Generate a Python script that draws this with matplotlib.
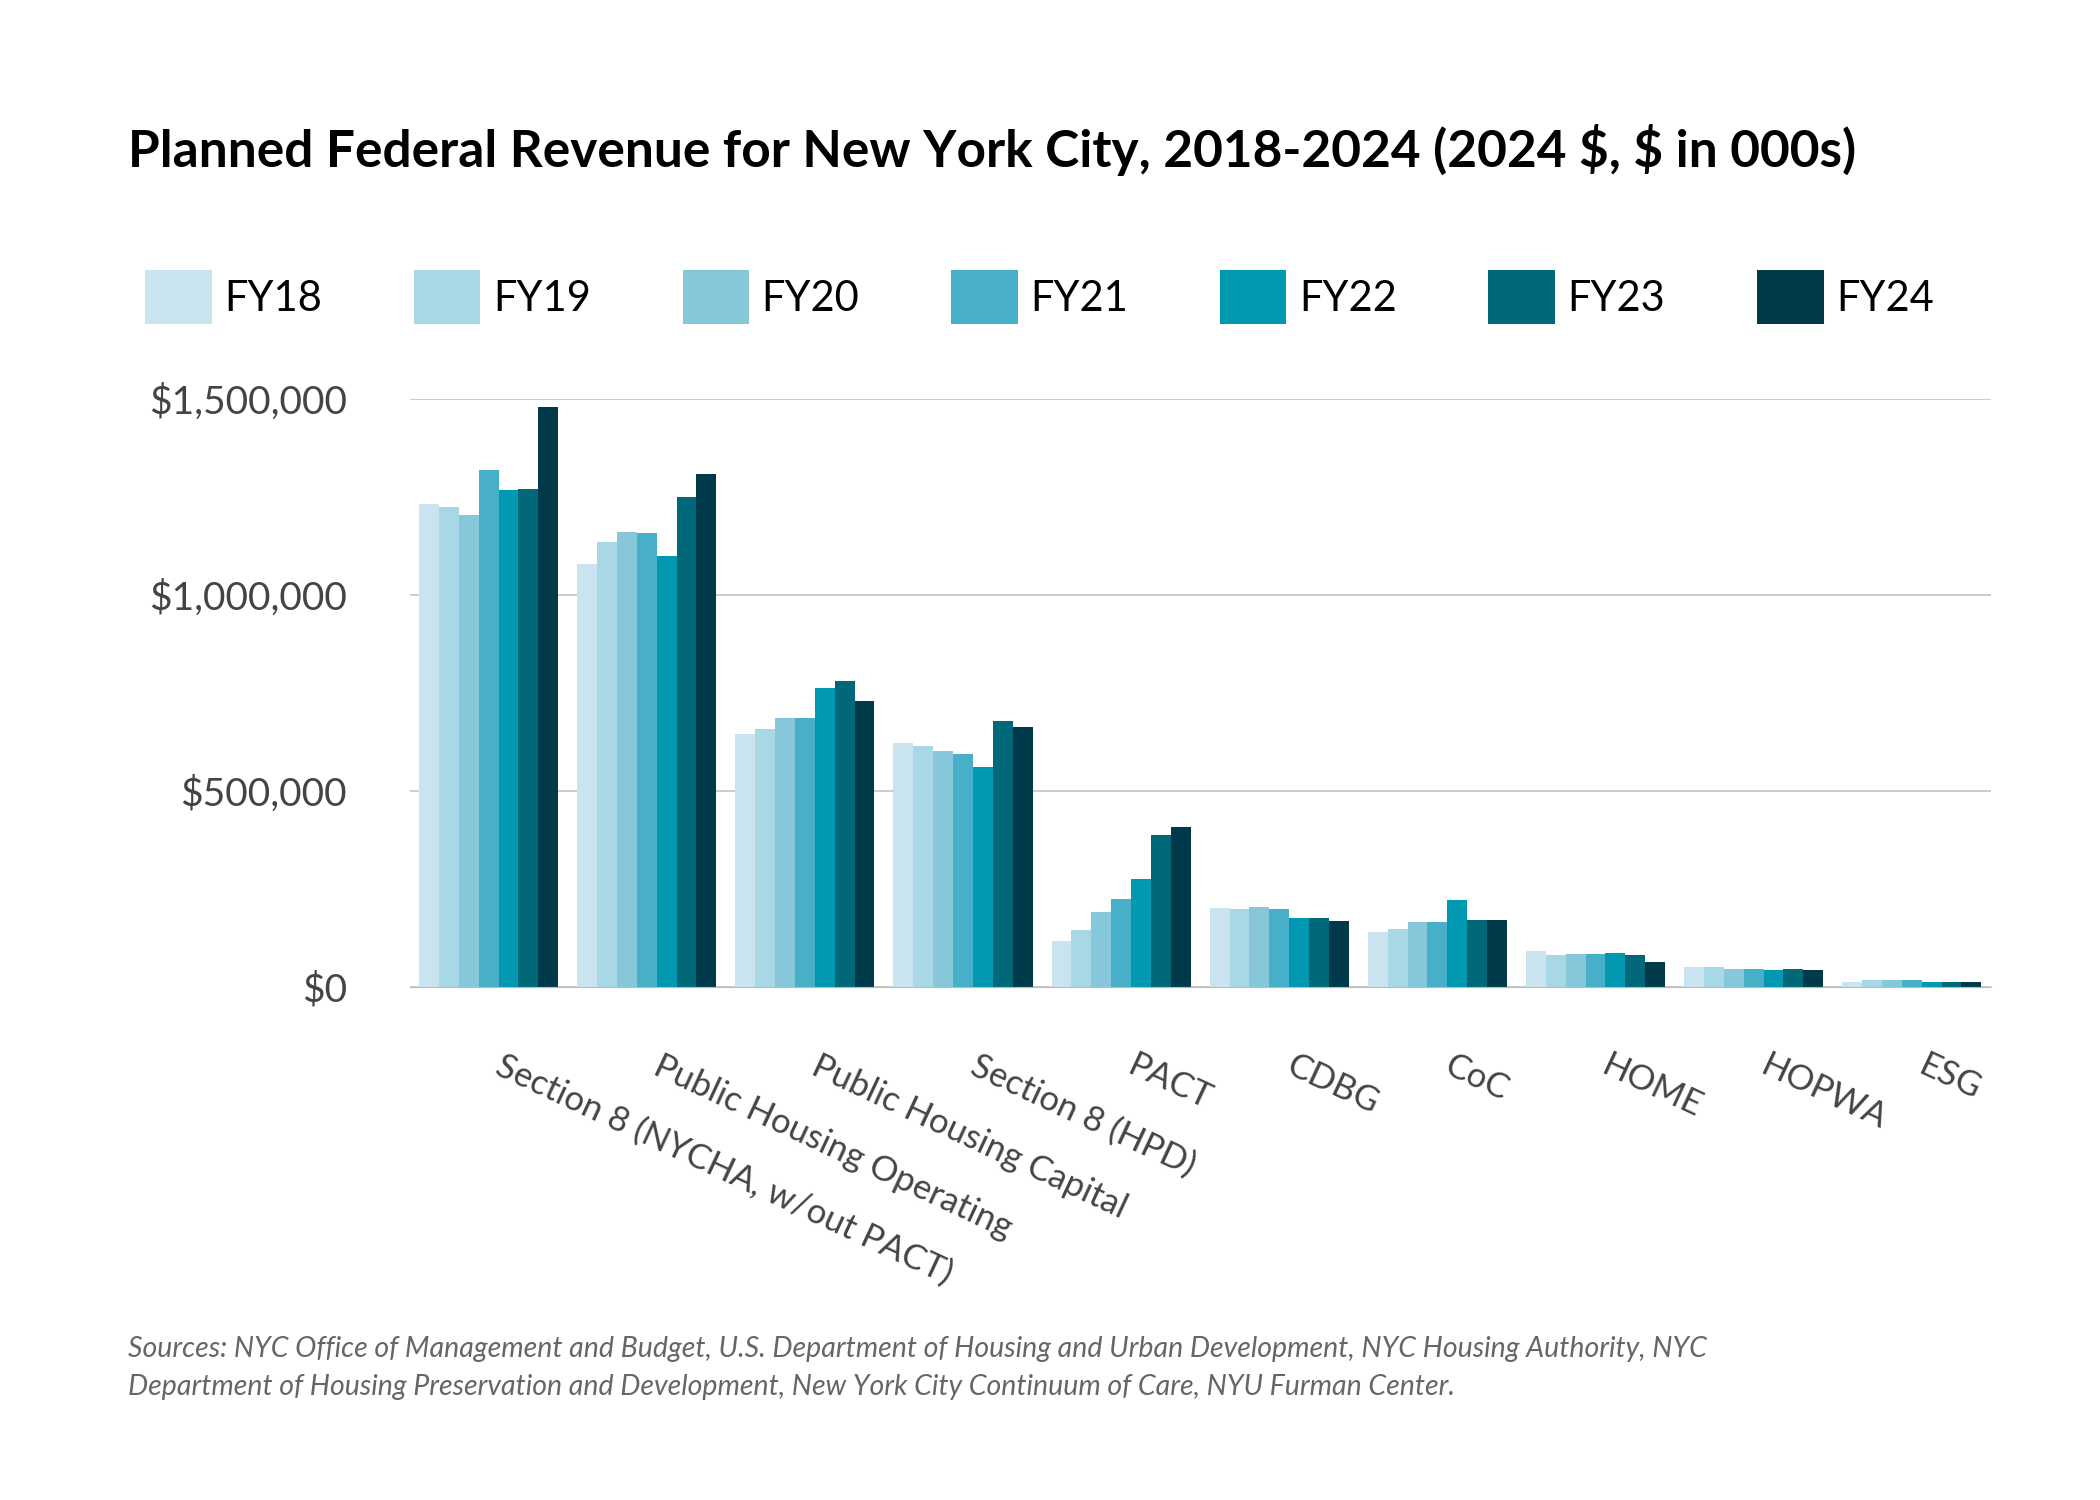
import matplotlib.pyplot as plt
import numpy as np

plt.rcParams["font.family"] = ["Lato", "DejaVu Sans"]

categories = ["Section 8 (NYCHA, w/out PACT)", "Public Housing Operating", "Public Housing Capital",
              "Section 8 (HPD)", "PACT", "CDBG", "CoC", "HOME", "HOPWA", "ESG"]
years = ["FY18", "FY19", "FY20", "FY21", "FY22", "FY23", "FY24"]
# values in $000s, rows = categories, columns = years
values = [
    [1231000, 1224000, 1204000, 1318000, 1268000, 1271000, 1480000],
    [1080000, 1134000, 1160000, 1157000, 1100000, 1251000, 1308000],
    [646000, 659000, 686000, 686000, 764000, 780000, 730000],
    [622000, 616000, 602000, 595000, 562000, 679000, 663000],
    [118000, 145000, 192000, 225000, 276000, 387000, 407000],
    [202000, 198000, 205000, 198000, 175000, 175000, 168000],
    [141000, 148000, 165000, 165000, 222000, 172000, 172000],
    [91000, 81000, 84000, 84000, 87000, 81000, 64000],
    [50000, 50000, 47000, 47000, 44000, 47000, 44000],
    [13000, 17000, 17000, 17000, 13000, 13000, 13000],
]
colors = ["#c9e4ef", "#a8d8e6", "#86c8d9", "#47afc7", "#0099b1", "#006878", "#003a4a"]

fig = plt.figure(figsize=(21, 15), dpi=100)
ax = fig.add_axes([0.195, 0.342, 0.753, 0.392])

data = np.array(values)
x = np.arange(len(categories))
w = 0.88 / len(years)
for i, yr in enumerate(years):
    ax.bar(x - 0.44 + w * (i + 0.5), data[:, i], width=w, color=colors[i], label=yr, clip_on=False)

ax.set_xlim(-0.5, len(categories) - 0.5)
ax.set_ylim(0, 1500000)
ax.set_yticks([0, 500000, 1000000, 1500000])
ax.set_yticklabels([r"\$0", r"\$500,000", r"\$1,000,000", r"\$1,500,000"], fontsize=28, color="#444444")
ax.yaxis.grid(True, color="#c8c8c8", linewidth=1.3)
ax.set_axisbelow(True)
for s in ["top", "right", "left"]:
    ax.spines[s].set_visible(False)
ax.spines["bottom"].set_color("#bbbbbb")
ax.tick_params(axis="y", length=0, pad=45)
ax.tick_params(axis="x", length=0, pad=45)
ax.set_xticks(x + 0.1)
ax.set_xticklabels(categories, rotation=-25, ha="left", rotation_mode="anchor",
                   fontsize=25, color="#444444")

fig.text(0.061, 0.9, r"Planned Federal Revenue for New York City, 2018-2024 (2024 \$, \$ in 000s)",
         fontsize=37, fontweight="bold", va="center")

fig.legend(loc="center", bbox_to_anchor=(0.495, 0.802), ncol=7, frameon=False, fontsize=30,
           handlelength=1.6, handleheight=1.6, columnspacing=2.2, handletextpad=0.3)

fig.text(0.061, 0.088, "Sources: NYC Office of Management and Budget, U.S. Department of Housing and Urban Development, NYC Housing Authority, NYC\n"
         "Department of Housing Preservation and Development, New York City Continuum of Care, NYU Furman Center.",
         fontsize=20.5, style="italic", color="#666666", va="center", linespacing=1.6)

fig.savefig("out.png", dpi=100)
